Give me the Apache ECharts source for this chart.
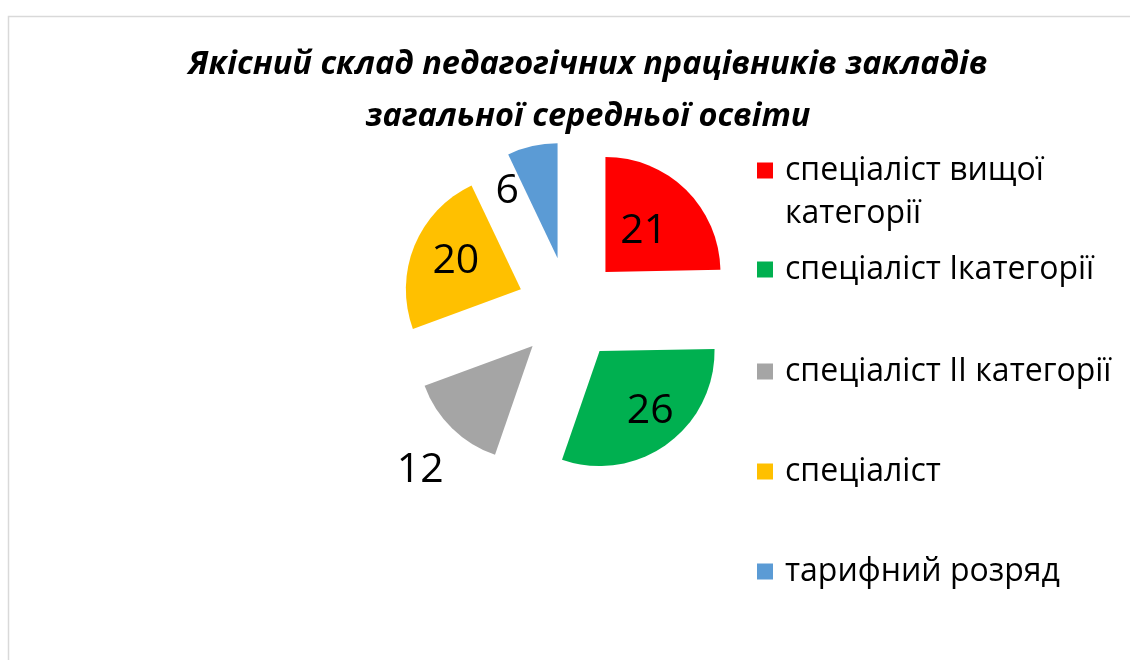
<!DOCTYPE html>
<html>
<head>
<meta charset="utf-8">
<script src="https://cdn.jsdelivr.net/npm/echarts@6/dist/echarts.min.js"></script>
<style>
html, body { margin: 0; padding: 0; background: #fff; }
#chart { width: 1130px; height: 660px; }
</style>
</head>
<body>
<div id="chart"></div>
<script>
let categories = ['спеціаліст вищої категорії', 'спеціаліст Ікатегорії', 'спеціаліст ІІ категорії', 'спеціаліст', 'тарифний розряд'];
let values = [21, 26, 12, 20, 6];
let colors = ['#FF0000', '#00B050', '#A5A5A5', '#FFC000', '#5B9BD5'];

// зсув підписів відносно стандартного місця всередині сектора
let labelShift = [[-4, 3], [15, 11], [-70, 81], [-9, -5], [-37, -8]];
let legendTops = [106, 248, 350, 450, 550];
let fontName = 'Open Sans';

let data = [];
for (let i = 0; i < values.length; i++) {
    data.push({
        name: categories[i],
        value: values[i],
        selected: true,
        itemStyle: { color: colors[i] }
    });
}

let legends = [];
for (let i = 0; i < categories.length; i++) {
    legends.push({
        orient: 'vertical',
        left: 757,
        top: legendTops[i],
        padding: 0,
        itemWidth: 16,
        itemHeight: 16,
        icon: 'rect',
        selectedMode: false,
        data: [categories[i]],
        formatter: function (name) {
            // перший пункт у два рядки, маркер біля першого рядка
            return i === 0 ? '\nспеціаліст вищої\nкатегорії' : name;
        },
        textStyle: {
            fontFamily: fontName,
            fontSize: 32,
            lineHeight: 43,
            color: '#000',
            padding: [0, 0, 0, 7]
        }
    });
}

let option = {
    animation: false,
    title: {
        text: 'Якісний склад педагогічних працівників закладів\nзагальної середньої освіти',
        left: 583,
        top: 34,
        textAlign: 'center',
        textStyle: {
            fontFamily: fontName,
            fontSize: 32.5,
            fontStyle: 'italic',
            fontWeight: 'bold',
            lineHeight: 52,
            color: '#000'
        }
    },
    legend: legends,
    graphic: [{
        type: 'rect',
        shape: { x: 8.5, y: 16.5, width: 1140, height: 660 },
        style: { fill: 'none', stroke: '#d9d9d9', lineWidth: 1.5 },
        silent: true
    }],
    series: [{
        type: 'pie',
        center: [569, 309],
        radius: [0, 115],
        startAngle: 90,
        clockwise: true,
        selectedMode: 'multiple',
        selectedOffset: 52,
        avoidLabelOverlap: false,
        emphasis: { disabled: true },
        select: { itemStyle: { borderWidth: 0 }, label: { color: '#000' } },
        label: {
            show: true,
            position: 'inside',
            formatter: '{c}',
            fontFamily: fontName,
            fontSize: 41,
            color: '#000'
        },
        labelLine: { show: false },
        labelLayout: function (p) {
            let s = labelShift[p.dataIndex];
            return { dx: s[0], dy: s[1] };
        },
        data: data
    }]
};

let myChart = echarts.init(document.getElementById('chart'));
myChart.setOption(option);
</script>
</body>
</html>
